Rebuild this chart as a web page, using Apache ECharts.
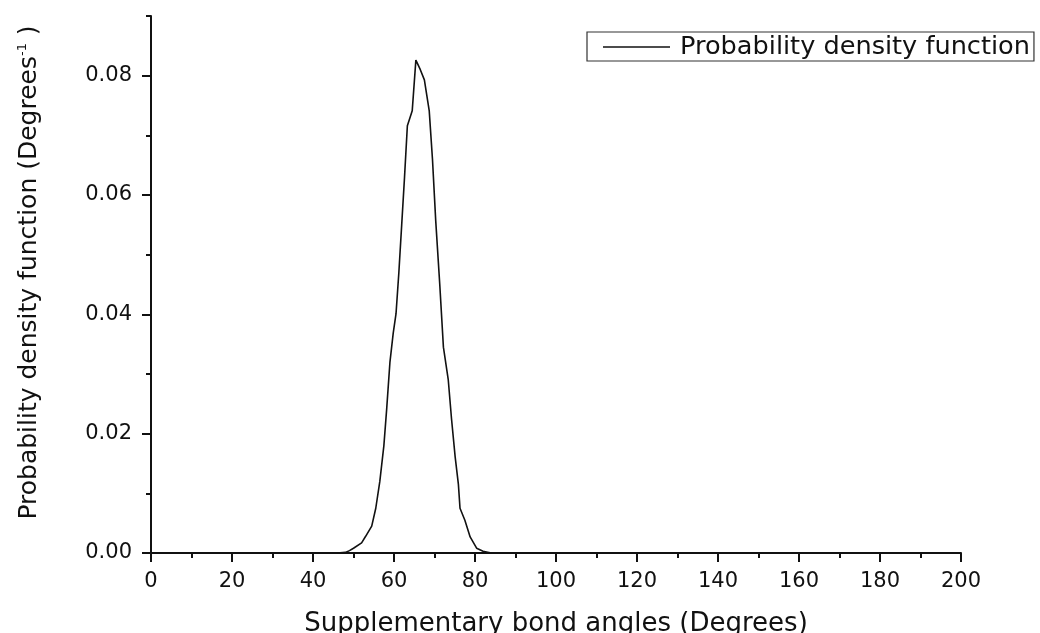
<!DOCTYPE html>
<html>
<head>
<meta charset="utf-8">
<script src="https://cdn.jsdelivr.net/npm/echarts@6/dist/echarts.min.js"></script>
<style>
html,body{margin:0;padding:0;background:#fff;}
#chart{width:1040px;height:633px;}
</style>
</head>
<body>
<div id="chart"></div>
<script>
// Data
var angles = [46, 48, 49, 50, 52, 53, 54.5, 55.5, 56.5, 57.5, 58.2, 59, 59.8, 60.5, 61.2, 61.9, 62.6, 63.3, 64.5, 65.4, 66.5, 67.5, 68.7, 69.5, 70.3, 71.3, 72.2, 73.4, 74.2, 75.1, 75.9, 76.3, 77.5, 78.8, 80.4, 82, 84];
var density = [0, 0.0001, 0.0004, 0.0008, 0.0017, 0.0028, 0.0045, 0.0075, 0.0120, 0.0180, 0.0242, 0.0320, 0.0368, 0.0401, 0.0470, 0.0550, 0.0630, 0.0716, 0.0741, 0.0826, 0.0810, 0.0793, 0.0741, 0.0660, 0.0557, 0.0450, 0.0345, 0.0290, 0.0225, 0.0161, 0.0115, 0.0075, 0.0055, 0.0027, 0.0008, 0.0003, 0];
var xTicks = [0, 20, 40, 60, 80, 100, 120, 140, 160, 180, 200];
var yTicks = [0.00, 0.02, 0.04, 0.06, 0.08];
var seriesName = 'Probability density function';
var xTitle = 'Supplementary bond angles (Degrees)';

var points = angles.map(function (a, i) { return [a, density[i]]; });
var FONT = 'DejaVu Sans';

var chart = echarts.init(document.getElementById('chart'), null, {renderer: 'canvas'});
chart.setOption({
  animation: false,
  backgroundColor: '#ffffff',
  grid: {left: 151, right: 79, top: 16, bottom: 80, containLabel: false, outerBoundsMode: 'none'},
  legend: {
    left: 587, top: 32,
    padding: [2, 4, 1, 16],
    borderColor: '#333', borderWidth: 1.2,
    itemWidth: 67, itemHeight: 1.5,
    textStyle: {fontFamily: FONT, fontSize: 25.6, color: '#111', padding: [0, 0, 0, 5]},
    data: [{name: seriesName, icon: 'path://M0,0 L100,0 L100,2 L0,2 Z', itemStyle: {color: '#111'}}]
  },
  xAxis: {
    type: 'value', min: xTicks[0], max: xTicks[xTicks.length - 1], interval: xTicks[1] - xTicks[0],
    name: xTitle, nameLocation: 'middle', nameGap: 58,
    nameTextStyle: {fontFamily: FONT, fontSize: 26, color: '#111'},
    axisLine: {lineStyle: {color: '#111', width: 2}},
    axisTick: {inside: false, length: 9, lineStyle: {color: '#111', width: 2}},
    minorTick: {show: true, splitNumber: 2, length: 5, lineStyle: {color: '#111', width: 2}},
    axisLabel: {fontFamily: FONT, fontSize: 21, color: '#111', margin: 18},
    splitLine: {show: false}
  },
  yAxis: [{
    type: 'value', min: 0, max: 0.09, interval: yTicks[1] - yTicks[0], position: 'left',
    name: '{a|Probability density function (Degrees}{s|-1}{a| )}',
    nameLocation: 'middle', nameGap: 108, nameRotate: 90,
    nameTextStyle: {
      fontFamily: FONT, fontSize: 25, color: '#111',
      padding: [0, 0, 0, 24],
      rich: {
        a: {fontFamily: FONT, fontSize: 25, color: '#111'},
        s: {fontFamily: FONT, fontSize: 13, color: '#111', verticalAlign: 'top', padding: [0, 0, 14, 0]}
      }
    },
    axisLine: {show: true, lineStyle: {color: '#111', width: 2}},
    axisTick: {show: true, inside: false, length: 9, lineStyle: {color: '#111', width: 2}},
    axisLabel: {
      fontFamily: FONT, fontSize: 21, color: '#111', margin: 19,
      showMaxLabel: false,
      formatter: function (v) { return yTicks.some(function (t) { return Math.abs(t - v) < 1e-9; }) ? v.toFixed(2) : ''; }
    },
    splitLine: {show: false}
  }, {
    type: 'value', min: 0, max: 0.09, interval: 0.01, position: 'left', offset: 0,
    axisLine: {show: false},
    axisTick: {show: true, inside: false, length: 5, lineStyle: {color: '#111', width: 2}},
    axisLabel: {show: false},
    splitLine: {show: false}
  }],
  series: [{
    name: seriesName, type: 'line', data: points, yAxisIndex: 0,
    showSymbol: false, symbol: 'none', smooth: false,
    lineStyle: {color: '#111', width: 1.6},
    itemStyle: {color: '#111'}
  }]
});
</script>
</body>
</html>
